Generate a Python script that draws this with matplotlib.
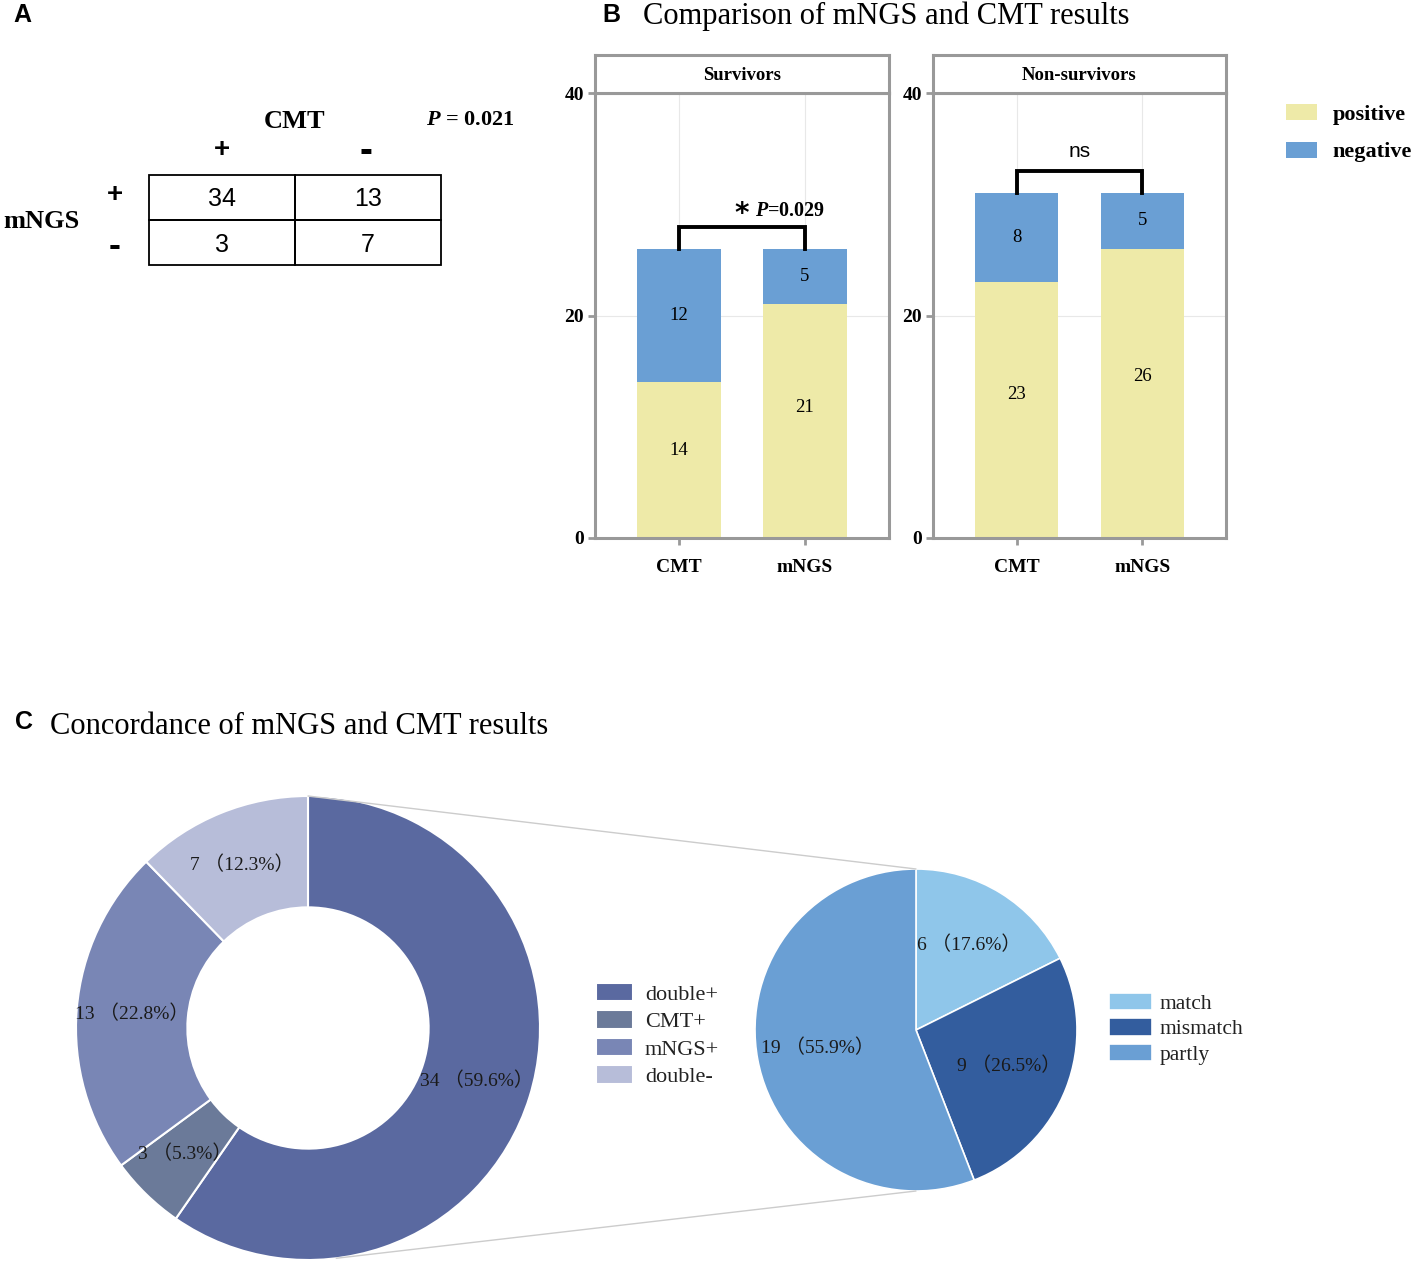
import math
import matplotlib
matplotlib.use("Agg")
import matplotlib.pyplot as plt
from matplotlib.patches import Rectangle, ConnectionPatch

SERIF = ['Liberation Serif', 'Noto Sans CJK SC']
SANS = 'Liberation Sans'
plt.rcParams['font.family'] = SERIF
plt.rcParams['mathtext.fontset'] = 'custom'
plt.rcParams['mathtext.rm'] = 'Liberation Serif'
plt.rcParams['mathtext.it'] = 'Liberation Serif:italic'
plt.rcParams['mathtext.bf'] = 'Liberation Serif:bold'
plt.rcParams['mathtext.bfit'] = 'Liberation Serif:italic:bold'

#==================================
# data

# A: 2x2 table, rows = mNGS, cols = CMT
table_cols = ['+', '-']
table_rows = ['+', '-']
table_vals = [[34, 13], [3, 7]]
table_p = r'$\mathbfit{P}$ = 0.021'

# B: stacked bars
groups = ['Survivors', 'Non-survivors']
methods = ['CMT', 'mNGS']
positive = {'Survivors': [14, 21], 'Non-survivors': [23, 26]}
negative = {'Survivors': [12, 5], 'Non-survivors': [8, 5]}
sig_mark = {'Survivors': '*', 'Non-survivors': 'ns'}
sig_p = {'Survivors': r'$\mathbfit{P}$=0.029', 'Non-survivors': ''}

# C: concordance donut + pie
conc_labels = ['double+', 'CMT+', 'mNGS+', 'double-']
conc_vals = [34, 3, 13, 7]
match_labels = ['match', 'mismatch', 'partly']
match_vals = [6, 9, 19]

YEL = '#EEEAA8'
BLU = '#6A9FD4'
GRAY = '#999999'
DONUT_COLS = ['#5A69A0', '#6B7A99', '#7986B5', '#B7BDD9']
PIE_COLS = ['#8FC6EA', '#335D9E', '#6A9FD4']

W, H = 1418, 1263
fig = plt.figure(figsize=(W / 100, H / 100), dpi=100)


def box(x0, y0, x1, y1):
	# pixel box (origin top-left) -> figure rect
	return [x0 / W, 1 - y1 / H, (x1 - x0) / W, (y1 - y0) / H]


bg = fig.add_axes([0, 0, 1, 1], zorder=-1)
bg.set_xlim(0, W)
bg.set_ylim(H, 0)
bg.axis('off')

#==================================
# panel A

bg.text(13, 15, 'A', family=SANS, weight='bold', fontsize=18, va='center')
cw, ch, tx, ty = 146, 45, 149, 175
for i, row in enumerate(table_vals):
	for j, v in enumerate(row):
		bg.add_patch(Rectangle((tx + cw * j, ty + ch * i), cw, ch, fill=False, lw=1.3, ec='k'))
		bg.text(tx + cw * (j + 0.5), ty + ch * (i + 0.5) + 2, str(v), family=SANS, fontsize=18,
				ha='center', va='center')
for j, c in enumerate(table_cols):
	bg.text(tx + cw * (j + 0.5) - 2 * j, 150 + 2 * j, c, family=SANS, weight='bold',
			fontsize=20 + 8 * j, ha='center', va='center')
for i, r in enumerate(table_rows):
	bg.text(115, ty + ch * (i + 0.5) - 2 + 6 * i, r, family=SANS, weight='bold',
			fontsize=20 + 6 * i, ha='center', va='center')
bg.text(295, 121, 'CMT', weight='bold', fontsize=19, ha='center', va='center')
bg.text(41, 221, 'mNGS', weight='bold', fontsize=19, ha='center', va='center')
bg.text(426, 120, table_p, fontsize=16, weight='bold', ha='left', va='center')

#==================================
# panel B

bg.text(602, 15, 'B', family=SANS, weight='bold', fontsize=18, va='center')
bg.text(643, 16, 'Comparison of mNGS and CMT results', fontsize=22, va='center')

panels = [(595, 889), (933, 1226)]
for k, g in enumerate(groups):
	x0, x1 = panels[k]
	ax = fig.add_axes(box(x0, 93, x1, 538))
	xs = list(range(len(methods)))
	b1 = ax.bar(xs, positive[g], width=0.66, color=YEL, zorder=2)
	b2 = ax.bar(xs, negative[g], bottom=positive[g], width=0.66, color=BLU, zorder=2)
	for x, p in zip(xs, positive[g]):
		ax.text(x, p * 0.56, str(p), ha='center', va='center', fontsize=13.5, zorder=3)
	ax.bar_label(b2, label_type='center', fontsize=13.5)

	top = max(p + n for p, n in zip(positive[g], negative[g]))
	ax.plot([0, 0, 1, 1], [top, top + 2, top + 2, top], color='k', lw=2.8, zorder=3,
			solid_joinstyle='miter')
	if sig_p[g]:
		ax.text(0.5, top + 3.1, sig_mark[g], ha='center', va='center', fontsize=20,
				weight='bold', family='DejaVu Sans')
		ax.text(0.6, top + 3.4, sig_p[g], ha='left', va='center', fontsize=14.5, weight='bold')
	else:
		ax.text(0.5, top + 3.7, sig_mark[g], ha='center', va='center', fontsize=15, family=SANS)

	ax.set_xlim(-0.667, 1.667)
	ax.set_ylim(0, 40)
	ax.set_yticks([0, 20, 40])
	ax.set_xticks(xs)
	ax.set_xticklabels(methods, fontsize=14, weight='bold')
	for lab in ax.get_yticklabels():
		lab.set_fontweight('bold')
		lab.set_fontsize(14)
	ax.grid(color='#e8e8e8', lw=0.8)
	ax.set_axisbelow(True)
	for s in ax.spines.values():
		s.set_color(GRAY)
		s.set_linewidth(2.2)
	ax.tick_params(color=GRAY, width=2, length=5, pad=3)
	ax.tick_params(axis='x', pad=10)

	strip = fig.add_axes(box(x0, 55, x1, 93))
	strip.set_xticks([])
	strip.set_yticks([])
	for s in strip.spines.values():
		s.set_color(GRAY)
		s.set_linewidth(2.2)
	strip.text(0.5, 0.45, g, transform=strip.transAxes, ha='center', va='center',
			   fontsize=13.5, weight='bold')

fig.legend([b1, b2], ['positive', 'negative'], loc='upper left',
		   bbox_to_anchor=(1286 / W, 1 - 104 / H), frameon=False, borderpad=0, borderaxespad=0,
		   prop=dict(family='Liberation Serif', weight='bold', size=16),
		   handlelength=1.4, handleheight=0.75, handletextpad=0.7, labelspacing=0.75)

#==================================
# panel C

bg.text(15, 722, 'C', family=SANS, weight='bold', fontsize=18, va='center')
bg.text(50, 727, 'Concordance of mNGS and CMT results', fontsize=22, va='center')


def fmt(vals):
	tot = sum(vals)
	return lambda p: '{} （{:.1f}%）'.format(int(round(p * tot / 100)), p)


axd = fig.add_axes(box(76, 796, 540, 1260))
wd, _, _ = axd.pie(conc_vals, colors=DONUT_COLS, startangle=90, counterclock=False, radius=1,
				   wedgeprops=dict(width=0.48, edgecolor='white', linewidth=1.5),
				   autopct=fmt(conc_vals), pctdistance=0.76,
				   textprops=dict(fontsize=14, color='#1a1a1a'))
axd.set_xlim(-1, 1)
axd.set_ylim(-1, 1)

axp = fig.add_axes(box(755, 869, 1077, 1191))
wp, _, _ = axp.pie(match_vals, colors=PIE_COLS, startangle=90, counterclock=False, radius=1,
				   wedgeprops=dict(edgecolor='white', linewidth=1.2),
				   autopct=fmt(match_vals), pctdistance=0.62,
				   textprops=dict(fontsize=14, color='#1a1a1a'))
axp.set_xlim(-1, 1)
axp.set_ylim(-1, 1)

a = math.radians(-83)
for pa, pb in [((0, 1), (0, 1)), ((math.cos(a), math.sin(a)), (0, -1))]:
	con = ConnectionPatch(xyA=pa, coordsA=axd.transData, xyB=pb, coordsB=axp.transData,
						  color='#cccccc', lw=1)
	fig.add_artist(con)

fig.legend(wd, conc_labels, loc='upper left', bbox_to_anchor=(596 / W, 1 - 983 / H),
		   frameon=False, borderpad=0, borderaxespad=0,
		   prop=dict(family='Liberation Serif', size=16), labelcolor='#222222',
		   handlelength=1.65, handleheight=0.9, handletextpad=0.55, labelspacing=0.25)
fig.legend(wp, match_labels, loc='upper left', bbox_to_anchor=(1109 / W, 1 - 993 / H),
		   frameon=False, borderpad=0, borderaxespad=0,
		   prop=dict(family='Liberation Serif', size=15.5), labelcolor='#222222',
		   handlelength=2.0, handleheight=0.85, handletextpad=0.35, labelspacing=0.2)

fig.savefig('out.png', dpi=100)
